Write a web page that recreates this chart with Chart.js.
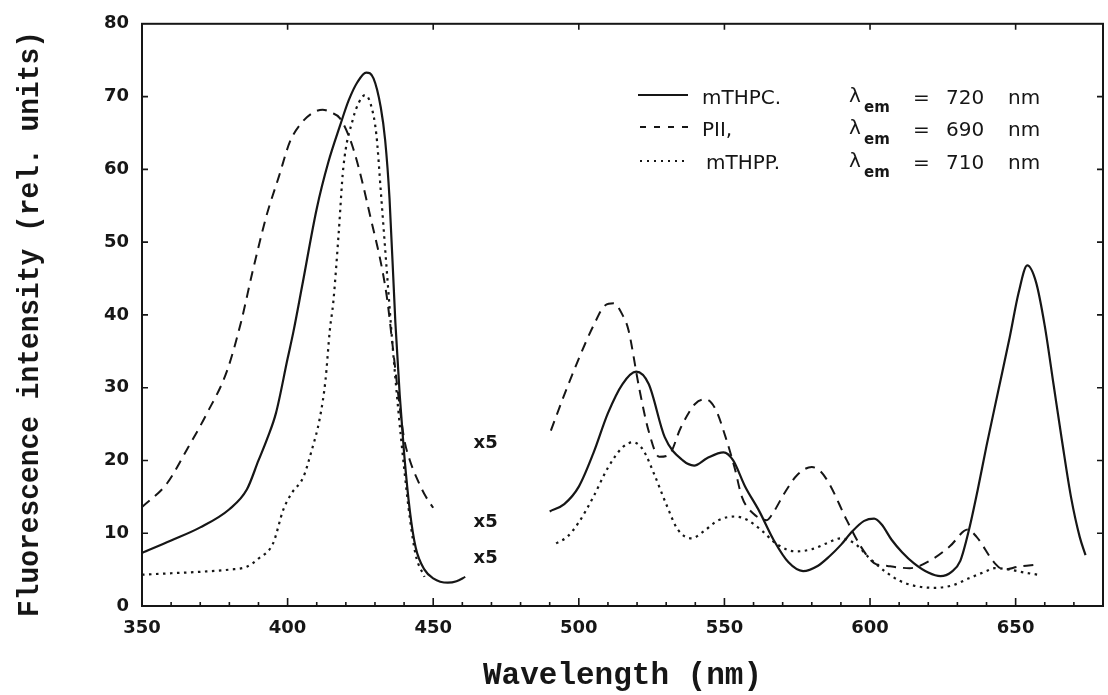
<!DOCTYPE html>
<html>
<head>
<meta charset="utf-8">
<script src="https://cdn.jsdelivr.net/npm/chart.js@4.4.0/dist/chart.umd.min.js"></script>
<style>
html,body{margin:0;padding:0;background:#fff;}
#wrap{width:1108px;height:695px;position:relative;}
</style>
</head>
<body>
<div id="wrap"><canvas id="c" width="1108" height="695"></canvas></div>
<script>
// ---- axis ticks ----
const xTickLabels = [350, 400, 450, 500, 550, 600, 650];
const xMinorTicks = [360, 370, 380, 390, 410, 420, 430, 440, 460, 470, 480, 490, 510, 520, 530, 540, 560, 570, 580, 590, 610, 620, 630, 640, 660, 670];
const yTickLabels = [0, 10, 20, 30, 40, 50, 60, 70, 80];

// ---- legend text ----
const seriesNames = ['mTHPC.', 'PII,', 'mTHPP.'];
const emissionNm = ['720', '690', '710'];

// ---- "x5" annotations (wavelength, level) ----
const scaleNoteText = ['x5', 'x5', 'x5'];
const scaleNoteWl = [468, 468, 468];
const scaleNoteLevel = [22.3, 11.5, 6.5];

// ---- mTHPC (solid) ----
const mthpcExWl = [350,360,370,380,386,390,393,396,400,402,405,410,414,418,421,424,427,429.5,432,433.5,435,437,438.5,440,442,444,447,450,455,458,461];
const mthpcEx   = [7.3,9.0,10.8,13.3,16.0,20,23,26.5,34,37.7,44,54.6,61,66,69.5,72,73.3,72.5,68.5,64,56,39,29,21,13,8,5,3.8,3.2,3.4,4.0];
const mthpcEmWl = [490,495,500,505,510,515,519.7,524,529.5,535.7,539.6,544,549.7,553,557,562,567,572,577,582,586,590,594,598,601.4,604,607.4,611,615,620,624.2,628,631,634,637,640,644,648,651,654,657,660,663,666,669,672,674];
const mthpcEm   = [13,14,16.4,21,26.5,30.5,32.2,30.5,23.2,20,19.3,20.3,21.1,20,16.5,13,9,6,4.8,5.5,6.8,8.4,10.3,11.7,12,11.2,9.1,7.4,5.9,4.6,4.1,4.7,6.2,10.5,16,22,29.5,37,43,46.8,44.5,38.5,30.5,22.5,15,9.5,7];

// ---- PII (dashed) ----
const piiExWl = [350,358.5,365.3,372.2,379.1,384,388,392.8,397,400.8,404.2,408,412,415,418,422.5,428.3,434,436,438,440,442,445,447.5,450];
const piiEx   = [13.6,16.8,21.4,26.4,32.2,39,46,53.7,59,63.8,66.1,67.6,68.2,67.8,67,62.9,53.7,42.7,36,29,23,20,17,15,13.5];
const piiEmWl = [490.4,495,500,505,509,512,515,517,520.7,524,527.6,531,535,540,543.5,547,550.4,553.5,556,559.9,564.5,567,570.6,575,580,583,586,592,596.8,601.4,606,613.6,621.3,627.4,633.6,636.6,642.8,645.9,651,657.4];
const piiEm   = [24.1,29,34,38.5,41.3,41.6,40,38,30,24,20.5,20.8,24.5,27.8,28.4,27,23.2,19,15,12.7,11.8,13,15.5,18,19.1,18.5,16.8,11.8,8.2,5.9,5.5,5.2,6.4,8.2,10.5,9.5,5.9,5.0,5.4,5.7];

// ---- mTHPP (dotted) ----
const mthppExWl = [350,360,370,380,386,390,395,398.5,401.4,405.4,408,411.1,413,414.5,415.7,417.5,419.1,422.5,424.5,426.6,428.5,430.5,432,434,436,438,440,442,444,447];
const mthppEx   = [4.3,4.5,4.7,5.0,5.4,6.5,8.6,13.2,15.5,17.7,21,25.9,31,37.9,41.8,51,60.1,67,69.2,70.2,69,64.7,57,46.4,36,27,19,12,7,4];
const mthppEmWl = [492.2,496,500,505,510,515,518.6,522,526,530,534,538.8,543,548,553.6,558,563,568,574.5,580,585,590,595,600,605,610,615,622,628,634,640,642.9,648,653,657.6];
const mthppEm   = [8.6,9.5,11.5,15,19,21.8,22.5,21.5,18,14,10.5,9.3,10.3,11.8,12.3,11.8,10.3,8.5,7.5,7.8,8.6,9.3,8.5,6.5,4.8,3.5,2.8,2.5,2.8,3.8,4.8,5.2,5.0,4.6,4.3];

const INK = '#161616';
const lineStyles = [
  {borderDash: [], borderWidth: 2.2},
  {borderDash: [10, 7], borderWidth: 2},
  {borderDash: [2.5, 4.5], borderWidth: 2.2}
];

function pts(wl, v) { return wl.map((w, i) => ({x: w, y: v[i]})); }
function ds(label, wl, v, s) {
  return Object.assign({
    label: label,
    data: pts(wl, v),
    borderColor: INK,
    backgroundColor: INK,
    pointRadius: 0,
    fill: false,
    cubicInterpolationMode: 'monotone'
  }, lineStyles[s]);
}

const decor = {
  id: 'decor',
  afterDraw(chart) {
    const {ctx, chartArea: a, scales: {x, y}} = chart;
    ctx.save();
    ctx.strokeStyle = INK;
    ctx.fillStyle = INK;
    // frame
    ctx.lineWidth = 2;
    ctx.setLineDash([]);
    ctx.strokeRect(a.left, a.top, a.right - a.left, a.bottom - a.top);
    // inward ticks
    ctx.lineWidth = 1.6;
    ctx.beginPath();
    xTickLabels.forEach(v => {
      const px = x.getPixelForValue(v);
      ctx.moveTo(px, a.bottom); ctx.lineTo(px, a.bottom - 8);
      if (v > 350) { ctx.moveTo(px, a.top); ctx.lineTo(px, a.top + 6); }
    });
    xMinorTicks.forEach(v => {
      const px = x.getPixelForValue(v);
      ctx.moveTo(px, a.bottom); ctx.lineTo(px, a.bottom - 4);
    });
    yTickLabels.forEach(v => {
      if (v === 0 || v === 80) return;
      const py = y.getPixelForValue(v);
      ctx.moveTo(a.left, py); ctx.lineTo(a.left + 6, py);
      ctx.moveTo(a.right, py); ctx.lineTo(a.right - 6, py);
    });
    ctx.stroke();

    // axis titles
    ctx.textAlign = 'center';
    ctx.textBaseline = 'middle';
    ctx.font = 'bold 31px "Liberation Mono"';
    ctx.fillText('Wavelength (nm)', (a.left + a.right) / 2, 676);
    ctx.save();
    ctx.translate(30, 324);
    ctx.rotate(-Math.PI / 2);
    ctx.scale(0.93, 1);
    ctx.font = 'bold 30px "Liberation Mono"';
    ctx.fillText('Fluorescence intensity (rel. units)', 0, 0);
    ctx.restore();

    // x5 notes
    ctx.font = 'bold 18px "DejaVu Sans"';
    ctx.textAlign = 'center';
    scaleNoteText.forEach((t, i) => {
      ctx.fillText(t, x.getPixelForValue(scaleNoteWl[i]), y.getPixelForValue(scaleNoteLevel[i]));
    });

    // legend
    const rowY = [99, 131, 164];
    const lineY = [95, 127, 161];
    const sampleDash = [[], [6, 8], [2, 5]];
    seriesNames.forEach((name, i) => {
      ctx.setLineDash(sampleDash[i]);
      ctx.lineWidth = 2;
      ctx.beginPath();
      ctx.moveTo(i === 0 ? 638 : 640, lineY[i]);
      ctx.lineTo(688, lineY[i]);
      ctx.stroke();
      ctx.setLineDash([]);
      ctx.textAlign = 'left';
      ctx.textBaseline = 'middle';
      ctx.font = '20px "DejaVu Sans"';
      ctx.fillText(name, i === 2 ? 706 : 702, rowY[i]);
      ctx.fillText('\u03BB', 849, rowY[i] - 2);
      ctx.font = 'bold 15px "DejaVu Sans"';
      ctx.fillText('em', 864, rowY[i] + 9);
      ctx.font = '20px "DejaVu Sans"';
      ctx.fillText('=', 913, rowY[i]);
      ctx.fillText(emissionNm[i], 946, rowY[i]);
      ctx.fillText('nm', 1008, rowY[i]);
    });
    ctx.restore();
  }
};

new Chart(document.getElementById('c'), {
  type: 'line',
  data: {
    datasets: [
      ds(seriesNames[2], mthppExWl, mthppEx, 2),
      ds(seriesNames[2], mthppEmWl, mthppEm, 2),
      ds(seriesNames[1], piiExWl, piiEx, 1),
      ds(seriesNames[1], piiEmWl, piiEm, 1),
      ds(seriesNames[0], mthpcExWl, mthpcEx, 0),
      ds(seriesNames[0], mthpcEmWl, mthpcEm, 0)
    ]
  },
  options: {
    responsive: false,
    animation: false,
    devicePixelRatio: 1,
    layout: {padding: {top: 22, right: 5, left: 0, bottom: 0}},
    plugins: {legend: {display: false}, tooltip: {enabled: false}},
    scales: {
      x: {
        type: 'linear', min: 350, max: 680,
        afterBuildTicks: s => { s.ticks = xTickLabels.map(v => ({value: v})); },
        afterFit: s => { s.height = 89; },
        grid: {display: false, drawTicks: false},
        border: {display: false},
        ticks: {padding: 12, maxRotation: 0, autoSkip: false, color: INK,
                font: {family: 'DejaVu Sans', size: 18, weight: 'bold'}}
      },
      y: {
        type: 'linear', min: 0, max: 80,
        afterBuildTicks: s => { s.ticks = yTickLabels.map(v => ({value: v})); },
        afterFit: s => { s.width = 142; },
        grid: {display: false, drawTicks: false},
        border: {display: false},
        ticks: {padding: 13, color: INK,
                font: {family: 'DejaVu Sans', size: 18, weight: 'bold'}}
      }
    }
  },
  plugins: [decor]
});
</script>
</body>
</html>
